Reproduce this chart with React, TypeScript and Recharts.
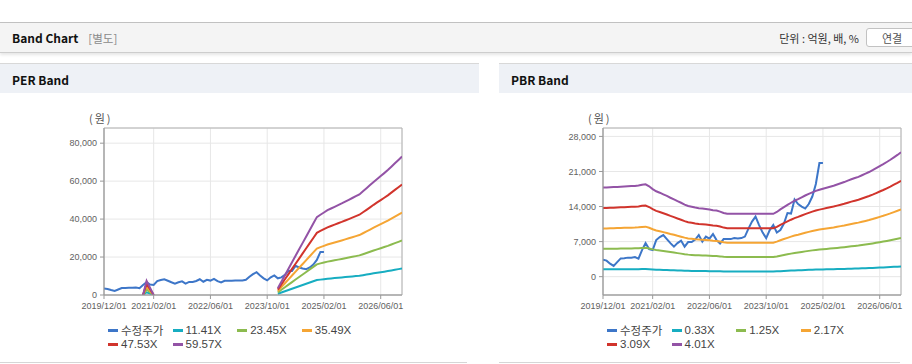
import React from "react";
import { CartesianGrid, Line, LineChart, ReferenceArea, XAxis, YAxis } from "recharts";

// month index 0 = 2019/12/01 ... 84 = 2026/12/01
const tickMonths = [0, 14, 30, 46, 62, 78];
const tickLabels = ["2019/12/01", "2021/02/01", "2022/06/01", "2023/10/01", "2025/02/01", "2026/06/01"];

// 수정주가 (months 0..62)
const price = [
  3400, 3200, 2600, 2150, 2900, 3650, 3700, 3800, 3800, 3900,
  3600, 5300, 6700, 5500, 5300, 7300, 7900, 8300, 7500, 6700,
  6000, 6700, 7200, 6000, 6900, 6900, 7400, 8300, 7000, 8000,
  7600, 8500, 7300, 6600, 7500, 7500, 7500, 7700, 7600, 7700,
  8000, 9600, 11000, 12000, 10300, 8800, 7700, 9300, 10300, 8800,
  9300, 10600, 12700, 12600, 15400, 14500, 14000, 13600, 14500, 16000,
  18500, 22700, 22700,
];

// EPS base of the PER band (null = no band drawn)
const eps: (number | null)[] = [
  null, null, null, null, null, null, null, null, null, null, null,
  0, 126, 63, 0,
  ...Array(34).fill(null),
  60, 118, 175, 232, 290, 347, 404, 461, 518, 575, 632,
  689, 710, 730, 750, 765, 780, 795, 810, 826, 842,
  858, 874, 890, 917, 944, 972, 1000, 1026, 1052, 1078,
  1105, 1135, 1165, 1195, 1225,
];

// BPS base of the PBR band
const bps = [
  4440, 4440, 4450, 4460, 4470, 4480, 4490, 4500, 4510, 4520,
  4540, 4580, 4600, 4500, 4360, 4250, 4180, 4100, 4020, 3930,
  3850, 3760, 3680, 3590, 3520, 3480, 3440, 3410, 3390, 3370,
  3340, 3310, 3290, 3240, 3170, 3130, 3130, 3130, 3130, 3130,
  3130, 3130, 3130, 3130, 3130, 3130, 3130, 3130, 3130, 3220,
  3350, 3460, 3570, 3680, 3780, 3860, 3950, 4040, 4120, 4200,
  4270, 4330, 4380, 4430, 4480, 4530, 4590, 4650, 4710, 4780,
  4850, 4910, 4970, 5050, 5130, 5210, 5300, 5400, 5500, 5600,
  5710, 5820, 5940, 6060, 6190,
];

const perMultiples = [11.41, 23.45, 35.49, 47.53, 59.57];
const pbrMultiples = [0.33, 1.25, 2.17, 3.09, 4.01];
const perTicks = [0, 20000, 40000, 60000, 80000];
const pbrTicks = [0, 7000, 14000, 21000, 28000];

const priceColor = "#3d76c8";
const bandColors = ["#17adc1", "#8cbb4f", "#f5a534", "#d1342c", "#9353a6"];

const latin = "'Liberation Sans', Arial, 'Noto Sans CJK KR', sans-serif";
const kr = "'Noto Sans CJK KR', sans-serif";

type Row = Record<string, number | null>;

// band line = multiple x base value (EPS / BPS)
function buildRows(base: (number | null)[], multiples: number[]): Row[] {
  return base.map((b, i) => {
    const row: Row = { m: i, price: i < price.length ? price[i] : null };
    multiples.forEach((k, j) => {
      row["b" + j] = b == null ? null : Math.round(b * k);
    });
    return row;
  });
}

function BandChart({
  left,
  width,
  rightMargin,
  base,
  multiples,
  domain,
  ticks,
}: {
  left: number;
  width: number;
  rightMargin: number;
  base: (number | null)[];
  multiples: number[];
  domain: [number, number];
  ticks: number[];
}) {
  const rows = buildRows(base, multiples);
  const tickStyle = { fill: "#5f5f5f", fontSize: 9, fontFamily: latin };
  return (
    <div style={{ position: "absolute", left, top: 110 }}>
      <LineChart
        width={width}
        height={210}
        data={rows}
        margin={{ top: 18, right: rightMargin, bottom: 0, left: 44 }}
      >
        <CartesianGrid stroke="#e7e7e7" />
        <ReferenceArea
          x1={0}
          x2={84}
          y1={domain[0]}
          y2={domain[1]}
          fill="none"
          stroke="#b2b2b2"
          strokeWidth={1}
        />
        <XAxis
          type="number"
          dataKey="m"
          domain={[0, 84]}
          ticks={tickMonths}
          interval={0}
          tickFormatter={(v: number) => tickLabels[tickMonths.indexOf(v)]}
          tick={tickStyle}
          tickSize={4}
          tickMargin={4}
          stroke="#999"
          height={25}
          allowDataOverflow
        />
        <YAxis
          type="number"
          domain={domain}
          ticks={ticks}
          interval={0}
          tickFormatter={(v: number) => v.toLocaleString("en-US")}
          tick={tickStyle}
          tickSize={4}
          tickMargin={3}
          stroke="#999"
          width={60}
          allowDataOverflow
        />
        <Line
          type="linear"
          dataKey="price"
          stroke={priceColor}
          strokeWidth={2}
          dot={false}
          isAnimationActive={false}
        />
        {multiples.map((k, j) => (
          <Line
            key={k}
            type="linear"
            dataKey={"b" + j}
            stroke={bandColors[j]}
            strokeWidth={2}
            dot={false}
            isAnimationActive={false}
          />
        ))}
      </LineChart>
    </div>
  );
}

function BandLegend({ left, multiples }: { left: number; multiples: number[] }) {
  const items = [
    { label: "수정주가", color: priceColor },
    ...multiples.map((k, j) => ({ label: k.toFixed(2) + "X", color: bandColors[j] })),
  ];
  return (
    <div
      style={{
        position: "absolute",
        left,
        top: 323,
        display: "grid",
        gridTemplateColumns: "repeat(4, 64.6px)",
        gridAutoRows: "14px",
        fontFamily: latin,
        fontSize: 11.5,
        color: "#444",
      }}
    >
      {items.map((it) => (
        <div key={it.label} style={{ display: "flex", alignItems: "center", whiteSpace: "nowrap" }}>
          <span
            style={{
              display: "inline-block",
              width: 10,
              height: 3,
              background: it.color,
              marginRight: 3,
            }}
          />
          {it.label}
        </div>
      ))}
    </div>
  );
}

function Panel({ left, width, title }: { left: number; width: number; title: string }) {
  return (
    <>
      <div
        style={{
          position: "absolute",
          left,
          top: 63,
          width,
          height: 29,
          borderTop: "1px solid #d8d8d8",
          background: "#eef1f6",
          fontFamily: kr,
          fontWeight: 700,
          fontSize: 12,
          lineHeight: "31px",
          color: "#111",
          paddingLeft: 12,
          boxSizing: "content-box",
        }}
      >
        {title}
      </div>
      <div style={{ position: "absolute", left, top: 362, width, height: 1, background: "#d6d6d6" }} />
    </>
  );
}

export default function App() {
  return (
    <div
      style={{
        position: "absolute",
        left: 0,
        top: 0,
        width: 912,
        height: 364,
        overflow: "hidden",
        background: "#fff",
        fontFamily: latin,
      }}
    >
      <div style={{ position: "absolute", left: 0, top: 22, width: 912, height: 1, background: "#c2c2c2" }} />
      <div
        style={{
          position: "absolute",
          left: 0,
          top: 23,
          width: 912,
          height: 29,
          background: "#f4f4f4",
          borderBottom: "1px solid #cdcdcd",
          boxShadow: "0 2px 3px rgba(0,0,0,0.10)",
        }}
      />
      <div
        style={{
          position: "absolute",
          left: 12,
          top: 23,
          lineHeight: "30px",
          fontFamily: kr,
          fontWeight: 700,
          fontSize: 12,
          color: "#111",
        }}
      >
        Band Chart
        <span style={{ fontWeight: 400, fontSize: 11.5, color: "#8a8a8a", marginLeft: 10 }}>[별도]</span>
      </div>
      <div
        style={{
          position: "absolute",
          right: 53,
          top: 23,
          lineHeight: "30px",
          fontFamily: kr,
          fontSize: 11,
          color: "#333",
        }}
      >
        단위 : 억원, 배, %
      </div>
      <div
        style={{
          position: "absolute",
          left: 866,
          top: 28,
          width: 60,
          height: 19,
          border: "1px solid #c2c2c2",
          borderRadius: 3,
          background: "#fff",
          fontFamily: kr,
          fontSize: 11,
          lineHeight: "19px",
          color: "#555",
          paddingLeft: 15,
          boxSizing: "border-box",
        }}
      >
        연결
      </div>

      <Panel left={0} width={467} title="PER Band" />
      <Panel left={499} width={401} title="PBR Band" />

      <div style={{ position: "absolute", left: 89, top: 110, fontFamily: kr, fontSize: 11, color: "#555", letterSpacing: 2 }}>(원)</div>
      <div style={{ position: "absolute", left: 588, top: 110, fontFamily: kr, fontSize: 11, color: "#555", letterSpacing: 2 }}>(원)</div>

      <BandChart
        left={0}
        width={460}
        rightMargin={58}
        base={eps}
        multiples={perMultiples}
        domain={[0, 88000]}
        ticks={perTicks}
      />
      <BandChart
        left={499}
        width={413}
        rightMargin={11}
        base={bps}
        multiples={pbrMultiples}
        domain={[-3660, 29680]}
        ticks={pbrTicks}
      />

      <BandLegend left={108} multiples={perMultiples} />
      <BandLegend left={607} multiples={pbrMultiples} />
    </div>
  );
}
